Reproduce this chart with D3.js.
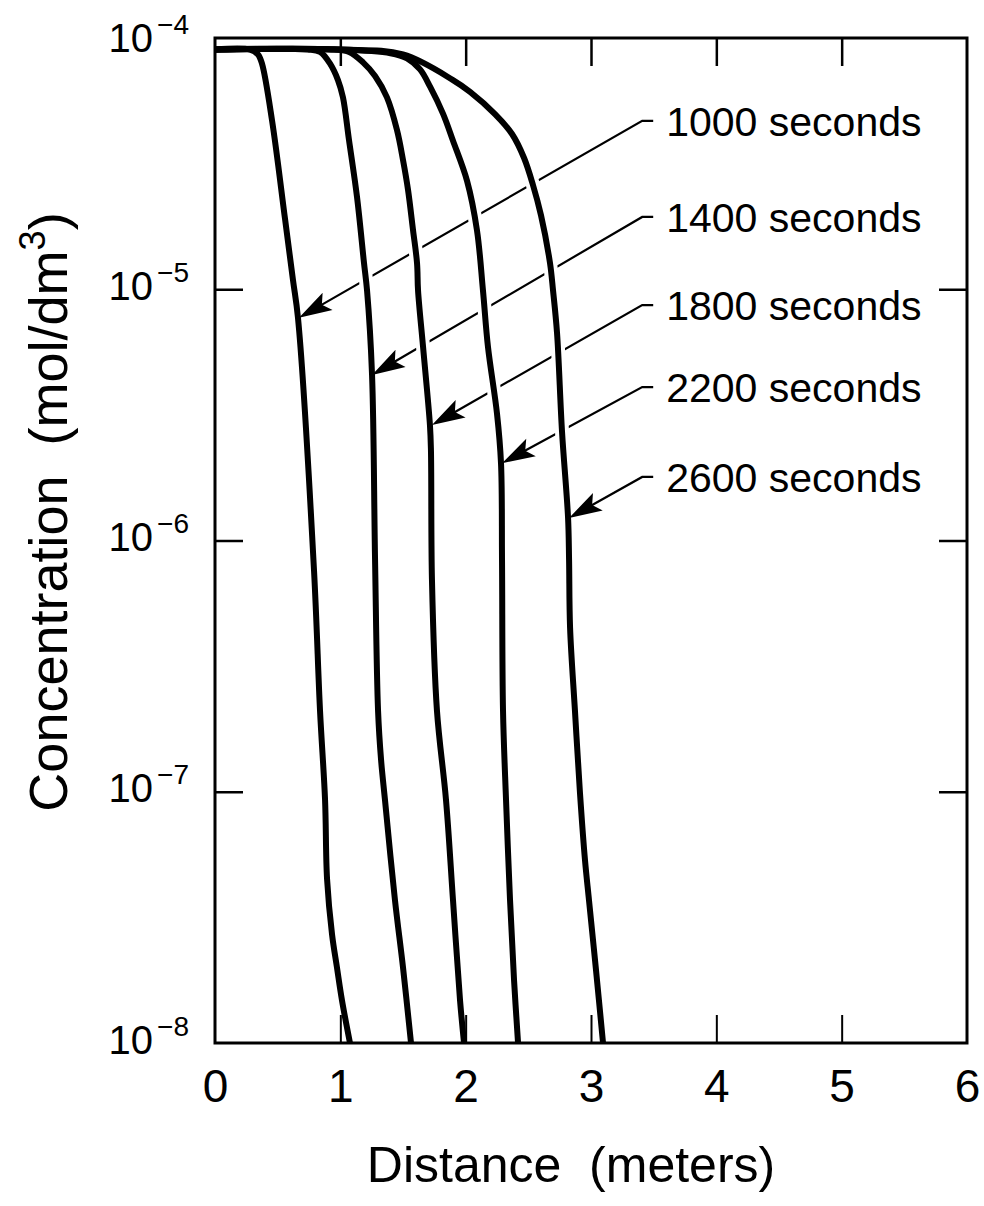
<!DOCTYPE html>
<html>
<head>
<meta charset="utf-8">
<script src="https://cdn.jsdelivr.net/npm/d3@7"></script>
<style>
  body { margin: 0; background: #fff; }
  text { font-family: "Liberation Sans", Arial, Helvetica, sans-serif; fill: #000; }
</style>
</head>
<body>
<div id="chart"></div>
<script>
// axis values
const distanceTicks = [0, 1, 2, 3, 4, 5, 6];
const innerDistanceTicks = [1, 2, 3, 4, 5];
const concTicks = [1e-4, 1e-5, 1e-6, 1e-7, 1e-8];
const innerConcTicks = [1e-5, 1e-6, 1e-7];

// concentration profiles, [distance m, concentration mol/dm3]
const c1000 = [[0, 9e-5], [0.279, 9e-5], [0.343, 8.6e-5], [0.375, 7.9e-5], [0.455, 4.7e-5], [0.559, 1.9e-5],
  [0.622, 1.09e-5], [0.662, 7.7e-6], [0.790, 7.6e-7], [0.838, 2.1e-7], [0.878, 9.3e-8], [0.894, 4.5e-8],
  [0.934, 2.7e-8], [0.973, 2.0e-8], [1.013, 1.48e-8], [1.077, 1.0e-8]];
const c1400 = [[0, 9e-5], [0.74, 9e-5], [0.838, 8.8e-5], [0.918, 7.9e-5], [0.981, 6.8e-5], [1.021, 5.8e-5],
  [1.069, 3.93e-5], [1.133, 2.33e-5], [1.189, 1.27e-5], [1.213, 9.9e-6], [1.253, 4.56e-6], [1.277, 8.4e-7],
  [1.301, 2.1e-7], [1.325, 1.34e-7], [1.356, 9.3e-8], [1.436, 3.7e-8], [1.500, 2.0e-8], [1.564, 1.0e-8]];
const c1800 = [[0, 9e-5], [0.95, 9e-5], [1.07, 8.8e-5], [1.181, 8.0e-5], [1.277, 7.06e-5], [1.372, 5.8e-5],
  [1.452, 4.3e-5], [1.500, 3.27e-5], [1.540, 2.49e-5], [1.580, 1.72e-5], [1.612, 1.27e-5], [1.620, 9.9e-6],
  [1.660, 5.9e-6], [1.715, 2.88e-6], [1.723, 2.29e-6], [1.731, 7.0e-7], [1.771, 2.1e-7], [1.843, 9.3e-8],
  [1.899, 3.7e-8], [1.955, 1.48e-8], [1.987, 1.0e-8]];
const c2200 = [[0, 9e-5], [1.0, 9e-5], [1.40, 8.7e-5], [1.532, 8.3e-5], [1.636, 7.5e-5], [1.716, 6.4e-5],
  [1.819, 5.0e-5], [1.899, 3.9e-5], [2.011, 2.7e-5], [2.090, 1.72e-5], [2.138, 9.9e-6], [2.178, 5.9e-6],
  [2.250, 3.2e-6], [2.282, 2.03e-6], [2.29, 8.4e-7], [2.298, 2.1e-7], [2.322, 9.3e-8], [2.354, 3.7e-8],
  [2.386, 1.78e-8], [2.418, 1.0e-8]];
const c2600 = [[0, 9e-5], [1.0, 9e-5], [1.500, 8.6e-5], [1.899, 6.8e-5], [2.035, 6.1e-5], [2.234, 4.98e-5],
  [2.370, 4.15e-5], [2.466, 3.33e-5], [2.537, 2.6e-5], [2.601, 1.97e-5], [2.673, 1.27e-5], [2.697, 9.9e-6],
  [2.729, 6.7e-6], [2.769, 2.7e-6], [2.817, 1.23e-6], [2.825, 8.4e-7], [2.833, 4.5e-7], [2.872, 2.1e-7],
  [2.912, 9.9e-8], [2.952, 5.35e-8], [2.984, 3.7e-8], [3.040, 1.95e-8], [3.096, 1.0e-8]];
const profiles = [c1000, c1400, c1800, c2200, c2600];

// annotations
const seriesLabels = ['1000 seconds', '1400 seconds', '1800 seconds', '2200 seconds', '2600 seconds'];
const labelX = 3.6;
const labelY = [4.68e-5, 1.94e-5, 8.65e-6, 4.08e-6, 1.79e-6];
const arrowTips = [[0.670, 7.7e-6], [1.253, 4.56e-6], [1.731, 2.88e-6], [2.290, 2.03e-6], [2.825, 1.23e-6]];

const width = 984, height = 1206;
const svg = d3.select('#chart').append('svg')
    .attr('width', width)
    .attr('height', height);

const x = d3.scaleLinear().domain([0, 6]).range([215, 967]);
const y = d3.scaleLog().domain([1e-4, 1e-8]).range([38, 1043]);
const tickLen = 28;

const arrowGeom = (i) => {
    let ly = y(labelY[i]);
    let x0 = x(labelX) - 13, x1 = x(labelX) - 24;
    let tx = x(arrowTips[i][0]), ty = y(arrowTips[i][1]);
    let ang = Math.atan2(ty - ly, tx - x1);
    return { ly, x0, x1, tx, ty, c: Math.cos(ang), s: Math.sin(ang) };
};

// leader lines (drawn first so the curves cut gaps into them)
const leaders = svg.append('g');
seriesLabels.forEach((lab, i) => {
    let a = arrowGeom(i);
    let bx = a.tx - a.c * 26, by = a.ty - a.s * 26;
    leaders.append('path')
        .attr('d', `M${a.x0},${a.ly}L${a.x1},${a.ly}L${bx},${by}`)
        .attr('fill', 'none')
        .attr('stroke', '#000')
        .attr('stroke-width', 2.2);
});

const line = d3.line()
    .x(d => x(d[0]))
    .y(d => y(d[1]))
    .curve(d3.curveCatmullRom.alpha(0.5));

svg.append('g').selectAll('path')
    .data(profiles)
    .join('path')
    .attr('d', line)
    .attr('fill', 'none')
    .attr('stroke', '#fff')
    .attr('stroke-width', 14);

svg.append('g').selectAll('path')
    .data(profiles)
    .join('path')
    .attr('d', line)
    .attr('fill', 'none')
    .attr('stroke', '#000')
    .attr('stroke-width', 6)
    .attr('stroke-linejoin', 'round');

// arrow heads
const heads = svg.append('g');
seriesLabels.forEach((lab, i) => {
    let a = arrowGeom(i);
    let L = 33, W = 10;
    let p1 = [a.tx - a.c * L - a.s * W, a.ty - a.s * L + a.c * W];
    let p2 = [a.tx - a.c * L + a.s * W, a.ty - a.s * L - a.c * W];
    let pn = [a.tx - a.c * L * 0.8, a.ty - a.s * L * 0.8];
    heads.append('path')
        .attr('d', `M${a.tx},${a.ty}L${p1}L${pn}L${p2}Z`)
        .attr('fill', '#000');
});

// inward ticks on all four sides
const styleTicks = (g, w) => {
    g.select('.domain').remove();
    g.selectAll('.tick line').attr('stroke', '#000').attr('stroke-width', w);
};
svg.append('g')
    .attr('transform', `translate(0,${y.range()[1]})`)
    .call(d3.axisBottom(x).tickValues(innerDistanceTicks).tickSize(-tickLen).tickFormat(''))
    .call(g => styleTicks(g, 2));
svg.append('g')
    .attr('transform', `translate(0,${y.range()[0]})`)
    .call(d3.axisTop(x).tickValues(innerDistanceTicks).tickSize(-tickLen).tickFormat(''))
    .call(g => styleTicks(g, 2.5));
svg.append('g')
    .attr('transform', `translate(${x.range()[0]},0)`)
    .call(d3.axisLeft(y).tickValues(innerConcTicks).tickSize(-tickLen).tickFormat(''))
    .call(g => styleTicks(g, 2.5));
svg.append('g')
    .attr('transform', `translate(${x.range()[1]},0)`)
    .call(d3.axisRight(y).tickValues(innerConcTicks).tickSize(-tickLen).tickFormat(''))
    .call(g => styleTicks(g, 2.5));

// frame
svg.append('rect')
    .attr('x', x.range()[0])
    .attr('y', y.range()[0])
    .attr('width', x.range()[1] - x.range()[0])
    .attr('height', y.range()[1] - y.range()[0])
    .attr('fill', 'none')
    .attr('stroke', '#000')
    .attr('stroke-width', 3);

// x tick labels
const xLab = svg.append('g')
    .attr('transform', `translate(0,${y.range()[1]})`)
    .call(d3.axisBottom(x).tickValues(distanceTicks).tickSize(0).tickPadding(26).tickFormat(d3.format('d')));
xLab.select('.domain').remove();
xLab.selectAll('text')
    .style('font-size', '46px')
    .attr('font-family', null);

// y tick labels as powers of ten
const yLab = svg.append('g')
    .attr('transform', `translate(${x.range()[0]},0)`)
    .call(d3.axisLeft(y).tickValues(concTicks).tickSize(0).tickFormat(''));
yLab.select('.domain').remove();
yLab.selectAll('.tick').each(function(d) {
    let t = d3.select(this).append('text')
        .attr('x', -26)
        .attr('y', d === 1e-4 ? 13 : 10)
        .attr('text-anchor', 'end')
        .style('font-size', '40px');
    t.append('tspan').text('10');
    t.append('tspan')
        .attr('dx', 4)
        .attr('dy', -18)
        .style('font-size', '28px')
        .text('\u2212' + Math.round(-Math.log10(d)));
});

// series labels
svg.append('g').selectAll('text')
    .data(seriesLabels)
    .join('text')
    .attr('x', x(labelX))
    .attr('y', (d, i) => y(labelY[i]) + 15)
    .style('font-size', '41px')
    .text(d => d);

// axis titles
svg.append('text')
    .attr('x', (x.range()[0] + x.range()[1]) / 2 - 20)
    .attr('y', 1182)
    .attr('text-anchor', 'middle')
    .style('font-size', '50px')
    .style('white-space', 'pre')
    .text('Distance  (meters)');

const yTitle = svg.append('text')
    .attr('transform', 'translate(67,512) rotate(-90)')
    .attr('text-anchor', 'middle')
    .style('font-size', '54px')
    .style('white-space', 'pre');
yTitle.append('tspan').text('Concentration  (mol/dm');
yTitle.append('tspan').attr('dy', -22).style('font-size', '36px').text('3');
yTitle.append('tspan').attr('dy', 22).text(')');
</script>
</body>
</html>
